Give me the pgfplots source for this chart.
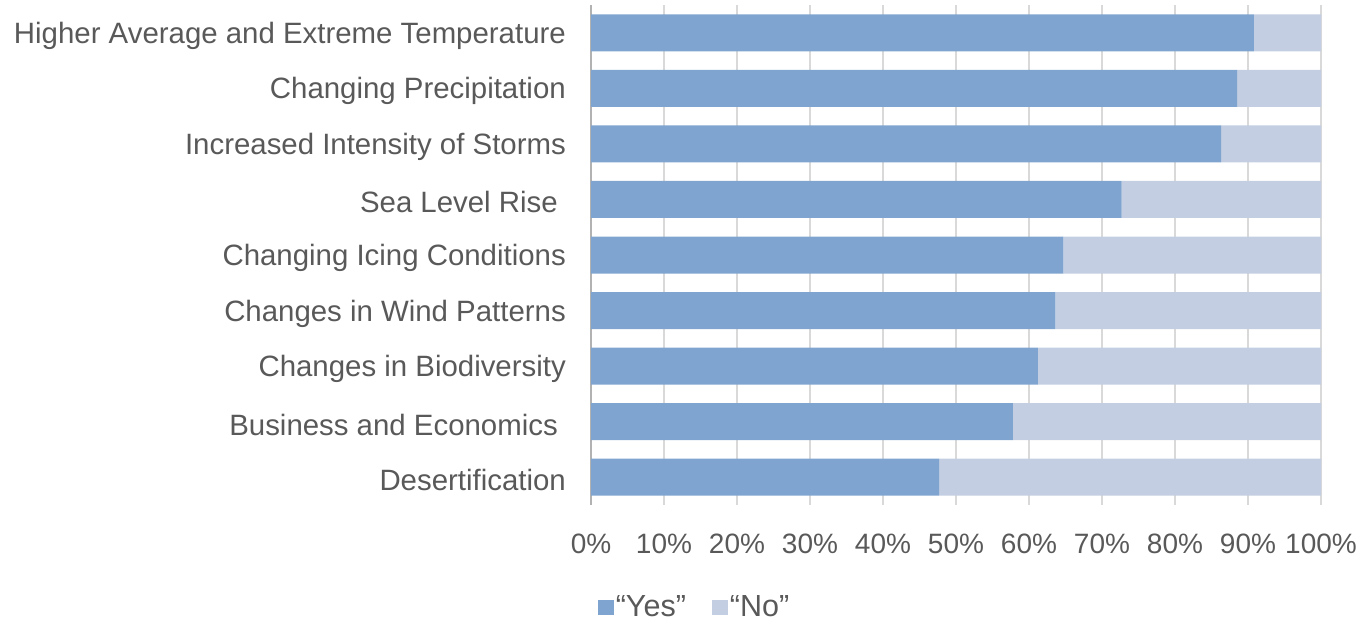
\documentclass[border=0pt]{standalone}
\usepackage{pgfplots}
\pgfplotsset{compat=1.18}
\usepackage{fontspec}
\setmainfont{Liberation Sans}
\definecolor{yescol}{HTML}{7FA4CF}
\definecolor{nocol}{HTML}{C3CEE2}
\definecolor{txt}{HTML}{595959}
\definecolor{gridc}{HTML}{D9D9D9}
\begin{document}
\begin{tikzpicture}
\path[use as bounding box] (0,0) rectangle (1364pt,622pt);
\begin{axis}[
  at={(591pt,117pt)}, anchor=south west,
  scale only axis, width=730pt, height=500pt,
  xbar stacked, bar width=37pt,
  xmin=0, xmax=100, ymin=-0.5, ymax=8.5, y dir=reverse,
  xtick={0,10,...,100},
  xticklabel={\pgfmathprintnumber{\tick}\%},
  /pgf/number format/assume math mode=true,
  ytick={0,...,8},
  yticklabels={Higher Average and Extreme Temperature,Changing Precipitation,Increased Intensity of Storms,Sea Level Rise\hspace*{8pt},Changing Icing Conditions,Changes in Wind Patterns,Changes in Biodiversity,Business and Economics\hspace*{8pt},Desertification},
  axis line style={draw=none},
  tick style={draw=none},
  xmajorgrids, grid style={gridc, line width=1.2pt},
  extra x ticks={0}, extra x tick labels={},
  extra x tick style={grid style={draw=black!30, line width=1.6pt}},
  ticklabel style={font=\fontsize{28}{32}\selectfont, text=txt},
  yticklabel style={inner sep=0pt, xshift=-25pt, yshift=-3pt, font=\fontsize{29.4}{33}\selectfont},
  xticklabel style={inner sep=0pt, yshift=-29pt},
  legend style={at={(0.1418,-0.204)}, anchor=center, draw=none, fill=none,
    font=\fontsize{30.5}{34}\selectfont, text=txt,
    nodes={inner sep=1.5pt},
    /tikz/every even column/.append style={column sep=25pt}},
  legend columns=2,
  legend image code/.code={\fill[#1] (0pt,-7.5pt) rectangle (16pt,7.5pt);},
]
\addplot[fill=yescol, draw=none] coordinates {(90.8,0) (88.5,1) (86.3,2) (72.7,3) (64.7,4) (63.6,5) (61.2,6) (57.8,7) (47.7,8)};
\addplot[fill=nocol, draw=none] coordinates {(9.2,0) (11.5,1) (13.7,2) (27.3,3) (35.3,4) (36.4,5) (38.8,6) (42.2,7) (52.3,8)};
\legend{“Yes”,“No”}
\end{axis}
\end{tikzpicture}
\end{document}
